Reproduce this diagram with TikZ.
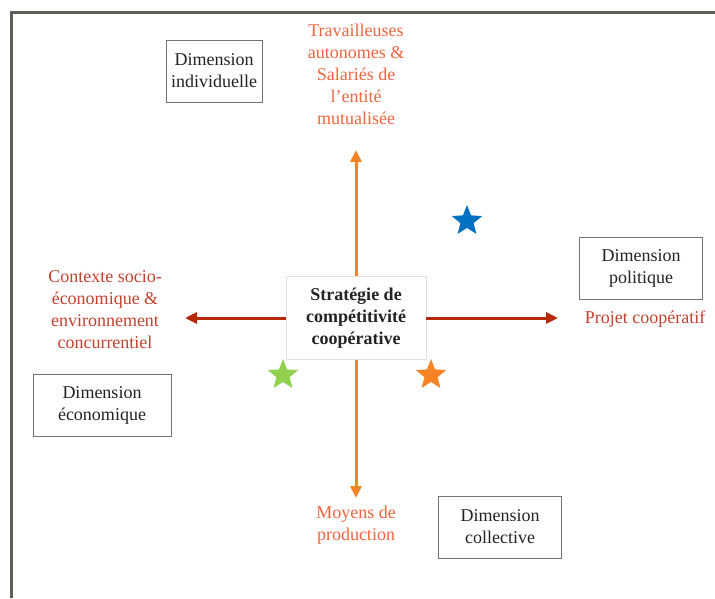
\documentclass[tikz,border=0pt]{standalone}
\usepackage{fontspec}
\setmainfont{Liberation Serif}
\usetikzlibrary{arrows.meta,shapes.geometric}
\definecolor{frameGray}{RGB}{95,95,90}
\definecolor{boxGray}{RGB}{115,115,115}
\definecolor{inkDark}{RGB}{35,35,35}
\definecolor{axisOrange}{RGB}{246,132,38}
\definecolor{axisRed}{RGB}{182,42,10}
\definecolor{labOrange}{RGB}{240,100,62}
\definecolor{labRed}{RGB}{195,65,45}
\definecolor{starBlue}{RGB}{0,112,192}
\definecolor{starGreen}{RGB}{146,208,80}
\begin{document}
\begin{tikzpicture}
[x=1pt,y=-1pt,every node/.style={align=center,font=\fontsize{18}{22}\selectfont},
 dimbox/.style={draw=boxGray,line width=1pt,fill=white,text=inkDark,minimum height=62pt},
 poleOrange/.style={text=labOrange},
 poleRed/.style={text=labRed},
 starmark/.style={star,star points=5,star point ratio=2.3,minimum size=32pt,inner sep=0pt,draw=none}]
\useasboundingbox (0,0) rectangle (715,598);
\def \cx {356}
\def \cy {318}
% frame
\draw[frameGray,line width=3pt] (11,598) -- (11,12) -- (715,12);
% vertical axis
\coordinate (up) at (\cx,150);
\coordinate (down) at (\cx,498);
\draw[axisOrange,line width=3pt,{Triangle[length=12pt,width=11pt]}-{Triangle[length=12pt,width=11pt]}] (up) -- (down);
% centre
\node[draw={rgb,255:red,225;green,225;blue,218},fill=white,minimum width=140pt,minimum height=83pt,
  font=\fontsize{18}{22}\selectfont\bfseries,text=inkDark] (strat) at (\cx,\cy) {Stratégie de\\compétitivité\\coopérative};
% horizontal axis
\coordinate (left) at (185,\cy);
\coordinate (right) at (558,\cy);
\draw[axisRed,line width=3pt,-{Triangle[length=12pt,width=11pt]}] (strat.west) -- (left);
\draw[axisRed,line width=3pt,-{Triangle[length=12pt,width=11pt]}] (strat.east) -- (right);
% poles
\node[poleOrange] (travail) at (\cx,74) {Travailleuses\\autonomes \&\\Salariés de\\l’entité\\mutualisée};
\node[poleOrange] (moyens) at (\cx,525) {Moyens de\\production};
\node[poleRed] (contexte) at (105,310) {Contexte socio-\\économique \&\\environnement\\concurrentiel};
\node[poleRed] (projet) at (645,319) {Projet coopératif};
% dimensions
\node[dimbox,minimum width=96pt] (indiv) at (214,71) {Dimension\\individuelle};
\node[dimbox,minimum width=138pt] (eco) at (102,405) {Dimension\\économique};
\node[dimbox,minimum width=123pt] (poli) at (641,268) {Dimension\\politique};
\node[dimbox,minimum width=123pt] (coll) at (500,527) {Dimension\\collective};
% stars
\foreach \name/\px/\py/\col in {sBlue/467/221/starBlue,sGreen/283/375/starGreen,sOrange/431/375/axisOrange}
{
  \node[starmark,fill=\col] (\name) at (\px,\py) {};
}
\end{tikzpicture}
\end{document}
